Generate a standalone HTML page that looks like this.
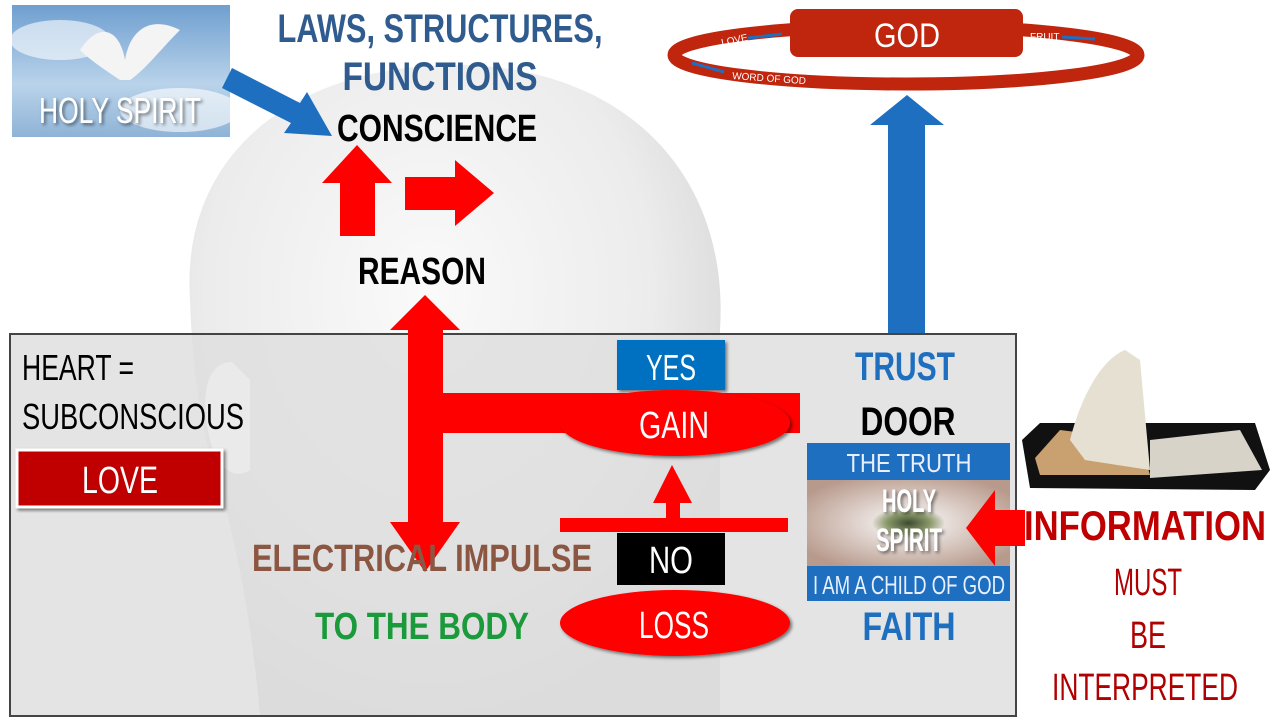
<!DOCTYPE html>
<html><head><meta charset="utf-8"><style>
html,body{margin:0;padding:0;background:#fff;width:1280px;height:720px;overflow:hidden}
text{font-family:"Liberation Sans Narrow","Liberation Sans",sans-serif}
</style></head><body>
<svg width="1280" height="720" viewBox="0 0 1280 720" xmlns="http://www.w3.org/2000/svg">
<defs>
<radialGradient id="head" cx="0.45" cy="0.35" r="0.7">
<stop offset="0" stop-color="#fafafa"/><stop offset="0.6" stop-color="#ececec"/><stop offset="1" stop-color="#cfcfcf"/>
</radialGradient>
<linearGradient id="sky" x1="0" y1="0" x2="0" y2="1">
<stop offset="0" stop-color="#6f9fd0"/><stop offset="0.6" stop-color="#b9d3ea"/><stop offset="1" stop-color="#8fb3d6"/>
</linearGradient>
<radialGradient id="eye" cx="0.5" cy="0.5" r="0.6">
<stop offset="0" stop-color="#3d4a30"/><stop offset="0.18" stop-color="#8a9a6a"/><stop offset="0.3" stop-color="#e8e0dc"/><stop offset="1" stop-color="#b89a8c"/>
</radialGradient>
<filter id="sh"><feDropShadow dx="2" dy="2" stdDeviation="1.5" flood-opacity="0.5"/></filter>
</defs>

<!-- head -->
<path d="M190,300 C180,150 300,65 455,65 C620,65 730,170 720,330 L720,716 L260,716 C250,600 230,520 215,470 C200,430 192,360 190,300 Z" fill="url(#head)"/>

<!-- god ring -->
<ellipse cx="906" cy="55" rx="232" ry="29" fill="none" stroke="#c0250e" stroke-width="13"/>
<rect x="790" y="9" width="233" height="48" rx="8" fill="#c0250e"/>
<text x="907" y="47" font-size="34" fill="#fff" text-anchor="middle" textLength="66" lengthAdjust="spacingAndGlyphs">GOD</text>
<text x="722" y="46" font-size="10" fill="#fff" transform="rotate(-12 722 46)">LOVE</text>
<path d="M748,38 L782,34" stroke="#1f6fc0" stroke-width="3"/>
<text x="1030" y="40" font-size="10" fill="#fff">FRUIT</text>
<path d="M1062,37 L1095,39" stroke="#1f6fc0" stroke-width="3"/>
<path d="M692,63 L724,72" stroke="#1f6fc0" stroke-width="3"/>
<text x="732" y="79" font-size="10" fill="#fff" transform="rotate(4 732 79)">WORD OF GOD</text>

<!-- blue up arrow -->
<polygon points="888,334 888,125 870,125 907,95 944,125 925,125 925,334" fill="#1f6fc0"/>

<!-- holy spirit image -->
<rect x="12" y="5" width="218" height="132" fill="url(#sky)"/>
<ellipse cx="60" cy="40" rx="50" ry="20" fill="#fff" opacity="0.6"/>
<ellipse cx="180" cy="110" rx="60" ry="22" fill="#fff" opacity="0.6"/>
<path d="M80,50 C100,20 120,30 125,60 C130,30 150,15 180,30 C160,50 145,70 130,80 L120,80 C105,70 90,60 80,50Z" fill="#f4f4f4"/>
<text x="120" y="123" font-size="36" fill="#fff" text-anchor="middle" textLength="162" lengthAdjust="spacingAndGlyphs" filter="url(#sh)">HOLY SPIRIT</text>

<!-- blue arrow to conscience -->
<polygon points="232,68 300,103 307,92 332,136 284,133 291,123 222,88" fill="#1f6fc0"/>

<text x="440" y="42" font-size="40" font-weight="bold" fill="#2f5b8e" text-anchor="middle" textLength="325" lengthAdjust="spacingAndGlyphs">LAWS, STRUCTURES,</text>
<text x="440" y="90" font-size="40" font-weight="bold" fill="#2f5b8e" text-anchor="middle" textLength="195" lengthAdjust="spacingAndGlyphs">FUNCTIONS</text>
<text x="437" y="141" font-size="38" font-weight="bold" fill="#000" text-anchor="middle" textLength="200" lengthAdjust="spacingAndGlyphs">CONSCIENCE</text>

<!-- red arrows -->
<polygon points="340,236 340,183 322,183 357,145 392,183 375,183 375,236" fill="#f00"/>
<polygon points="405,177 455,177 455,160 494,193 455,226 455,210 405,210" fill="#f00"/>
<text x="422" y="284" font-size="38" font-weight="bold" fill="#000" text-anchor="middle" textLength="128" lengthAdjust="spacingAndGlyphs">REASON</text>

<!-- gray box -->
<rect x="10" y="334" width="1006" height="382" fill="#dedede" fill-opacity="0.82" stroke="#444" stroke-width="2"/>

<!-- ear -->
<path d="M232,362 C205,362 200,400 210,440 C218,470 235,480 250,470 L250,380 Z" fill="#eaeaea"/>

<!-- big red structure -->
<rect x="408" y="328" width="35" height="196" fill="#f00"/>
<polygon points="390,330 425,295 460,330" fill="#f00"/>
<polygon points="390,522 460,522 425,572" fill="#f00"/>
<rect x="443" y="393" width="357" height="40" fill="#f00"/>

<rect x="617" y="340" width="108" height="50" fill="#0070c0" filter="url(#sh)"/>
<text x="671" y="380" font-size="36" fill="#fff" text-anchor="middle" textLength="50" lengthAdjust="spacingAndGlyphs">YES</text>
<ellipse cx="675" cy="423" rx="115" ry="33" fill="#f00" filter="url(#sh)"/>
<text x="674" y="438" font-size="38" fill="#fff" text-anchor="middle" textLength="70" lengthAdjust="spacingAndGlyphs">GAIN</text>

<polygon points="666,520 666,503 653,503 672,465 692,503 680,503 680,520" fill="#f00"/>
<rect x="560" y="518" width="228" height="14" fill="#f00"/>
<rect x="617" y="533" width="108" height="52" fill="#000"/>
<text x="671" y="573" font-size="38" fill="#fff" text-anchor="middle" textLength="44" lengthAdjust="spacingAndGlyphs">NO</text>
<ellipse cx="675" cy="623" rx="115" ry="33" fill="#f00" filter="url(#sh)"/>
<text x="674" y="638" font-size="38" fill="#fff" text-anchor="middle" textLength="70" lengthAdjust="spacingAndGlyphs">LOSS</text>

<text x="422" y="571" font-size="38" font-weight="bold" fill="#8b5642" text-anchor="middle" textLength="340" lengthAdjust="spacingAndGlyphs">ELECTRICAL IMPULSE</text>
<text x="422" y="639" font-size="38" font-weight="bold" fill="#1a9a3a" text-anchor="middle" textLength="214" lengthAdjust="spacingAndGlyphs">TO THE BODY</text>

<text x="22" y="380" font-size="36" fill="#000" textLength="112" lengthAdjust="spacingAndGlyphs">HEART =</text>
<text x="22" y="429" font-size="36" fill="#000" textLength="222" lengthAdjust="spacingAndGlyphs">SUBCONSCIOUS</text>
<rect x="17" y="450" width="205" height="57" fill="#c00000" stroke="#fff" stroke-width="3" filter="url(#sh)"/>
<text x="120" y="493" font-size="38" fill="#fff" text-anchor="middle" textLength="76" lengthAdjust="spacingAndGlyphs">LOVE</text>

<!-- right column -->
<text x="905" y="380" font-size="40" font-weight="bold" fill="#1f6fc0" text-anchor="middle" textLength="100" lengthAdjust="spacingAndGlyphs">TRUST</text>
<text x="908" y="435" font-size="40" font-weight="bold" fill="#000" text-anchor="middle" textLength="95" lengthAdjust="spacingAndGlyphs">DOOR</text>
<rect x="807" y="480" width="203" height="86" fill="url(#eye)"/>
<rect x="807" y="443" width="203" height="37" fill="#1f6fc0"/>
<text x="909" y="472" font-size="26" fill="#e8f0ff" text-anchor="middle" textLength="125" lengthAdjust="spacingAndGlyphs">THE TRUTH</text>
<text x="909" y="512" font-size="32" font-weight="bold" fill="#fff" text-anchor="middle" textLength="54" lengthAdjust="spacingAndGlyphs" filter="url(#sh)">HOLY</text>
<text x="909" y="551" font-size="32" font-weight="bold" fill="#fff" text-anchor="middle" textLength="66" lengthAdjust="spacingAndGlyphs" filter="url(#sh)">SPIRIT</text>
<rect x="807" y="566" width="203" height="35" fill="#1f6fc0"/>
<text x="909" y="594" font-size="26" fill="#e8f0ff" text-anchor="middle" textLength="192" lengthAdjust="spacingAndGlyphs">I AM A CHILD OF GOD</text>
<text x="909" y="640" font-size="40" font-weight="bold" fill="#1f6fc0" text-anchor="middle" textLength="93" lengthAdjust="spacingAndGlyphs">FAITH</text>

<polygon points="1025,510 995,510 995,490 966,528 995,566 995,546 1025,546" fill="#f00"/>

<!-- book -->
<path d="M1022,440 L1040,423 L1255,423 L1270,470 L1255,490 L1030,488 Z" fill="#111"/>
<path d="M1035,458 L1060,430 L1140,440 L1150,475 L1040,475Z" fill="#c9a070"/>
<path d="M1150,440 L1240,430 L1262,470 L1150,478 Z" fill="#d8d3c8"/>
<path d="M1070,440 C1080,400 1100,360 1125,350 L1140,360 L1150,470 L1085,460 Z" fill="#e6e0d2"/>

<text x="1145" y="540" font-size="42" font-weight="bold" fill="#c00000" text-anchor="middle" textLength="242" lengthAdjust="spacingAndGlyphs">INFORMATION</text>
<text x="1148" y="595" font-size="38" fill="#b00000" text-anchor="middle" textLength="68" lengthAdjust="spacingAndGlyphs">MUST</text>
<text x="1148" y="648" font-size="38" fill="#b00000" text-anchor="middle" textLength="36" lengthAdjust="spacingAndGlyphs">BE</text>
<text x="1145" y="700" font-size="38" fill="#b00000" text-anchor="middle" textLength="186" lengthAdjust="spacingAndGlyphs">INTERPRETED</text>
</svg>
</body></html>
